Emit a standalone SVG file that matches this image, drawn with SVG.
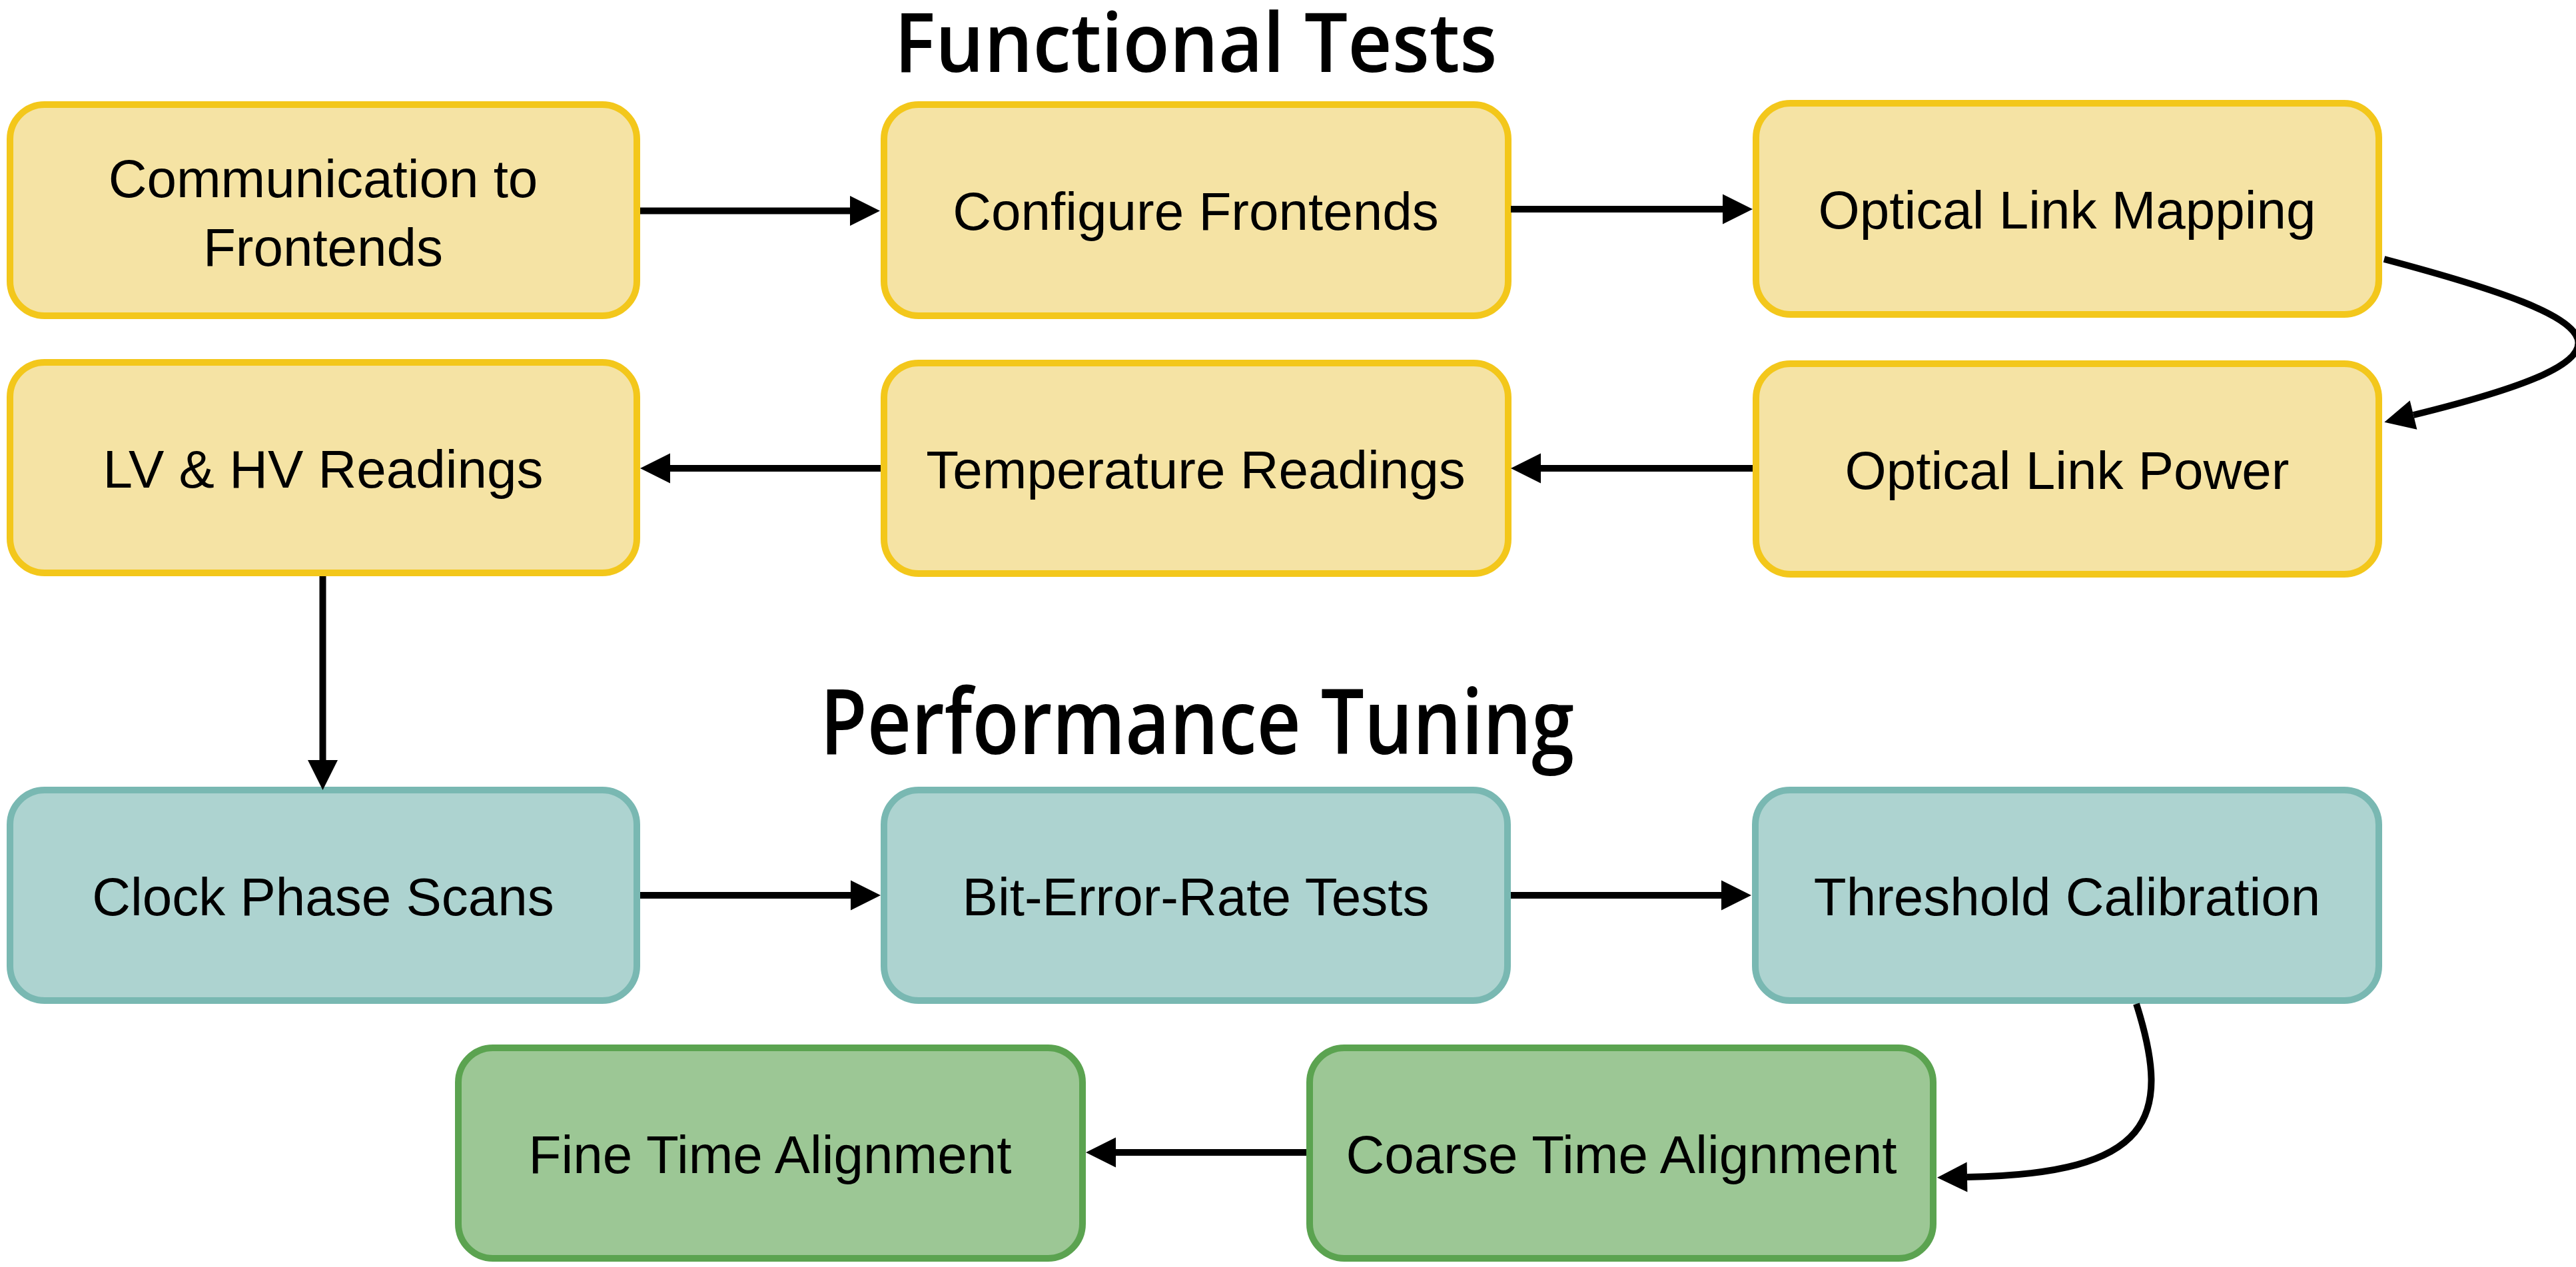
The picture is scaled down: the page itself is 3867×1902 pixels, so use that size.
<svg xmlns="http://www.w3.org/2000/svg" width="3867" height="1902" viewBox="0 0 3867 1902">
<style>
  .box { stroke-width: 10; }
  .y { fill: #F5E3A4; stroke: #F3C71B; }
  .t { fill: #ADD3D0; stroke: #79B8B2; }
  .g { fill: #9CC795; stroke: #5BA350; }
  .lbl { font-family: "Liberation Sans", Arial, sans-serif; font-size: 80px; fill: #000; text-anchor: middle; }
  .ttl { font-family: "Open Sans", "Liberation Sans", Arial, sans-serif; font-weight: 600; fill: #000; text-anchor: middle; }
  .edge { fill: none; stroke: #000; stroke-width: 10; marker-end: url(#ah); }
</style>
<defs>
  <marker id="ah" markerUnits="userSpaceOnUse" markerWidth="46" markerHeight="46" refX="0" refY="22.5" orient="auto" overflow="visible">
    <path d="M0,0 L45,22.5 L0,45 Z" fill="#000"/>
  </marker>
</defs>
<rect width="3867" height="1902" fill="#fff"/>

<text class="ttl" x="1795" y="108" font-size="124" textLength="905" lengthAdjust="spacingAndGlyphs">Functional Tests</text>
<text class="ttl" x="1797" y="1132" font-size="136" textLength="1132" lengthAdjust="spacingAndGlyphs">Performance Tuning</text>

<g id="n1"><rect class="box y" x="15" y="157" width="941" height="317" rx="52"/>
  <text class="lbl" x="485" y="296">Communication to</text>
  <text class="lbl" x="485" y="399">Frontends</text></g>
<g id="n2"><rect class="box y" x="1327" y="157" width="937" height="317" rx="52"/>
  <text class="lbl" x="1795" y="345">Configure Frontends</text></g>
<g id="n3"><rect class="box y" x="2636" y="155" width="935" height="317" rx="52"/>
  <text class="lbl" x="3103" y="343">Optical Link Mapping</text></g>
<g id="n4"><rect class="box y" x="2636" y="546" width="935" height="316" rx="52"/>
  <text class="lbl" x="3103" y="734">Optical Link Power</text></g>
<g id="n5"><rect class="box y" x="1327" y="545" width="937" height="316" rx="52"/>
  <text class="lbl" x="1795" y="733">Temperature Readings</text></g>
<g id="n6"><rect class="box y" x="15" y="544" width="941" height="316" rx="52"/>
  <text class="lbl" x="485" y="732">LV &amp; HV Readings</text></g>
<g id="n7"><rect class="box t" x="15" y="1186" width="941" height="316" rx="52"/>
  <text class="lbl" x="485" y="1374">Clock Phase Scans</text></g>
<g id="n8"><rect class="box t" x="1327" y="1186" width="936" height="316" rx="52"/>
  <text class="lbl" x="1795" y="1374">Bit-Error-Rate Tests</text></g>
<g id="n9"><rect class="box t" x="2635" y="1186" width="936" height="316" rx="52"/>
  <text class="lbl" x="3103" y="1374">Threshold Calibration</text></g>
<g id="n10"><rect class="box g" x="1966" y="1573" width="936" height="316" rx="52"/>
  <text class="lbl" x="2434" y="1761">Coarse Time Alignment</text></g>
<g id="n11"><rect class="box g" x="688" y="1573" width="937" height="316" rx="52"/>
  <text class="lbl" x="1156" y="1761">Fine Time Alignment</text></g>

<g id="connectors">
  <path class="edge" d="M961,316.5 L1276,316.5"/>
  <path class="edge" d="M2268,314 L2586,314"/>
  <path class="edge" d="M3579,389 C3937,484 3981,535 3623,623"/>
  <path class="edge" d="M2631,703 L2313,703"/>
  <path class="edge" d="M1322,703 L1006,703"/>
  <path class="edge" d="M484.5,865 L484.5,1141"/>
  <path class="edge" d="M961,1344 L1277,1344"/>
  <path class="edge" d="M2268,1344 L2584,1344"/>
  <path class="edge" d="M3207,1507 C3262,1680 3230,1762 2953,1767"/>
  <path class="edge" d="M1961,1730 L1675,1730"/>
</g>
</svg>
